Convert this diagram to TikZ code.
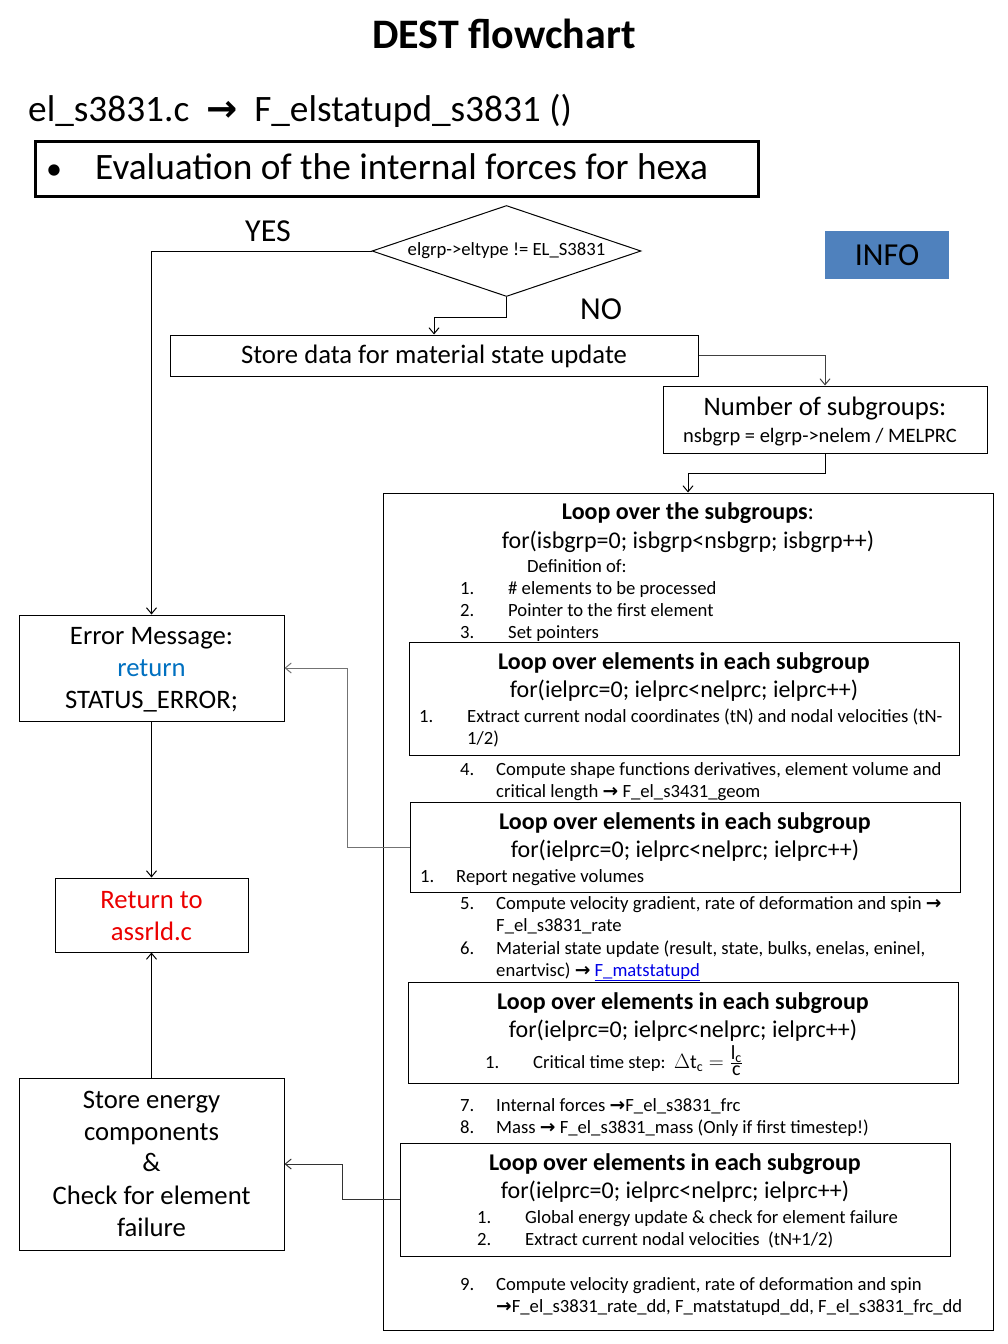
\documentclass[tikz,border=0pt]{standalone}
\usepackage{fontspec}
\setmainfont{Carlito}
\newfontfamily\arrfont{DejaVu Sans}
\usetikzlibrary{shapes.geometric,arrows.meta}
\definecolor{infoblue}{RGB}{79,129,189}
\definecolor{retblue}{RGB}{0,112,192}
\definecolor{linkblue}{RGB}{0,0,230}
\definecolor{redtxt}{RGB}{235,0,0}
\newcommand\fsz[1]{\fontsize{#1}{#1}\selectfont}
\newcommand\myarr{{\arrfont\bfseries →}}
\begin{document}
\begin{tikzpicture}[x=1pt,y=-1pt,
  box/.style={draw, line width=1pt, inner sep=0pt, rectangle},
  tS/.style={font=\fsz{18.67}, inner sep=0pt, anchor=base west, yshift=-6pt},
  tSc/.style={tS, anchor=base},
  tM/.style={font=\fsz{24}, inner sep=0pt, anchor=base, yshift=-7.5pt},
  tMb/.style={font=\fsz{24}\bfseries, inner sep=0pt, anchor=base, yshift=-7.5pt},
  tL/.style={font=\fsz{26.67}, inner sep=0pt, anchor=base, yshift=-8.5pt},
  tXL/.style={font=\fsz{32}, inner sep=0pt, anchor=base, yshift=-10.5pt},
  tH/.style={font=\fsz{37.3}, inner sep=0pt, anchor=base west, yshift=-11.5pt},
  arr/.style={-{Straight Barb[length=6pt,width=10pt]}, line width=1pt},
]
\useasboundingbox (0,0) rectangle (1008,1344);

% title and header
\node[font=\fsz{42}\bfseries, inner sep=0pt, anchor=base, yshift=-13pt] (title) at (504,35) {DEST flowchart};
\node[tH] (hdr) at (28,110) {el\_s3831.c \ \myarr\ \ F\_elstatupd\_s3831 ()};
\node[box, line width=3pt, minimum width=723pt, minimum height=55pt] (tbox) at (396.5,168.5) {};
\node[tH, font=\fsz{32}] (bul) at (46,168) {•};
\node[tH] (eval) at (95,168) {Evaluation of the internal forces for hexa};

% decision
\node[draw, line width=1pt, shape=diamond, shape aspect=2.96, inner sep=0pt,
      minimum width=269pt, minimum height=91pt, font=\fsz{18.67}] (dia) at (506.5,251) {elgrp->eltype != EL\_S3831};
\node[tXL] (yes) at (268,231) {YES};
\node[tXL] (no) at (601,309) {NO};
\node[fill=infoblue, minimum width=124pt, minimum height=48pt, inner sep=0pt] (info) at (887,255) {};
\node[tXL] (infot) at (887,255) {INFO};

% store / number
\node[box, minimum width=528pt, minimum height=41pt] (store) at (434,355.5) {};
\node[tL] (storet) at (434,355) {Store data for material state update};
\node[box, minimum width=324pt, minimum height=67pt] (num) at (825,419.5) {};
\node[tL] (numt1) at (825,407) {Number of subgroups:};
\node[tSc, font=\fsz{20.5}] (numt2) at (820,436) {nsbgrp = elgrp->nelem / MELPRC};

% big loop box
\node[box, minimum width=610pt, minimum height=837pt] (big) at (688,911.5) {};
\node[tMb] (bigt1) at (688,512) {Loop over the subgroups\mdseries:};
\node[tM] (bigt2) at (688,541) {for(isbgrp=0; isbgrp<nsbgrp; isbgrp++)};
\node[tS] (def) at (527,566) {Definition of:};
\node[tS] (n1) at (460,588) {1.};
\node[tS] (i1) at (508,588) {\# elements to be processed};
\node[tS] (n2) at (460,610.5) {2.};
\node[tS] (i2) at (508,610.5) {Pointer to the first element};
\node[tS] (n3) at (460,632.5) {3.};
\node[tS] (i3) at (508,632.5) {Set pointers};

% loop 1
\node[box, minimum width=550pt, minimum height=113pt] (L1) at (684,698.5) {};
\node[tMb] (L1a) at (684,662) {Loop over elements in each subgroup};
\node[tM] (L1b) at (684,690) {for(ielprc=0; ielprc<nelprc; ielprc++)};
\node[tS] (L1n) at (419,716) {1.};
\node[tS] (L1c) at (467,716) {Extract current nodal coordinates (tN) and nodal velocities (tN-};
\node[tS] (L1d) at (467,738) {1/2)};

\node[tS] (n4) at (460,769) {4.};
\node[tS] (i4a) at (496,769) {Compute shape functions derivatives, element volume and};
\node[tS] (i4b) at (496,791) {critical length \myarr\ F\_el\_s3431\_geom};

% loop 2
\node[box, minimum width=550pt, minimum height=90pt] (L2) at (685,847) {};
\node[tMb] (L2a) at (685,822) {Loop over elements in each subgroup};
\node[tM] (L2b) at (685,850) {for(ielprc=0; ielprc<nelprc; ielprc++)};
\node[tS] (L2n) at (420,876) {1.};
\node[tS] (L2c) at (456,876) {Report negative volumes};

\node[tS] (n5) at (460,903) {5.};
\node[tS] (i5a) at (496,903) {Compute velocity gradient, rate of deformation and spin \myarr};
\node[tS] (i5b) at (496,925) {F\_el\_s3831\_rate};
\node[tS] (n6) at (460,948) {6.};
\node[tS] (i6a) at (496,948) {Material state update (result, state, bulks, enelas, eninel,};
\node[tS] (i6b) at (496,970) {enartvisc) \myarr\ \textcolor{linkblue}{\underline{F\_matstatupd}}};

% loop 3
\node[box, minimum width=550pt, minimum height=101pt] (L3) at (683,1032.5) {};
\node[tMb] (L3a) at (683,1002) {Loop over elements in each subgroup};
\node[tM] (L3b) at (683,1030) {for(ielprc=0; ielprc<nelprc; ielprc++)};
\node[tS] (L3n) at (485,1062) {1.};
\node[tS] (L3c) at (533,1062) {Critical time step:\ \ {\fsz{20}$\Delta\mathrm{t_c}=\frac{\textstyle\mathrm{l_c}}{\textstyle\mathrm{c}}$}};

\node[tS] (n7) at (460,1105) {7.};
\node[tS] (i7) at (496,1105) {Internal forces \myarr F\_el\_s3831\_frc};
\node[tS] (n8) at (460,1127) {8.};
\node[tS] (i8) at (496,1127) {Mass \myarr\ F\_el\_s3831\_mass (Only if first timestep!)};

% loop 4
\node[box, minimum width=550pt, minimum height=113pt] (L4) at (675,1199.5) {};
\node[tMb] (L4a) at (675,1163) {Loop over elements in each subgroup};
\node[tM] (L4b) at (675,1191) {for(ielprc=0; ielprc<nelprc; ielprc++)};
\node[tS] (L4n1) at (477,1217) {1.};
\node[tS] (L4c1) at (525,1217) {Global energy update \& check for element failure};
\node[tS] (L4n2) at (477,1239) {2.};
\node[tS] (L4c2) at (525,1239) {Extract current nodal velocities\ \ (tN+1/2)};

\node[tS] (n9) at (460,1284) {9.};
\node[tS] (i9a) at (496,1284) {Compute velocity gradient, rate of deformation and spin};
\node[tS] (i9b) at (496,1306) {\myarr F\_el\_s3831\_rate\_dd, F\_matstatupd\_dd, F\_el\_s3831\_frc\_dd};

% left column
\node[box, minimum width=265pt, minimum height=106pt] (err) at (151.5,668) {};
\node[tL] (err1) at (151.5,636) {Error Message:};
\node[tL, text=retblue] (err2) at (151.5,668) {return};
\node[tL] (err3) at (151.5,700) {STATUS\_ERROR;};

\node[box, minimum width=193pt, minimum height=74pt] (ret) at (151.5,915) {};
\node[tL, text=redtxt] (ret1) at (151.5,900) {Return to};
\node[tL, text=redtxt] (ret2) at (151.5,932) {assrld.c};

\node[box, minimum width=265pt, minimum height=172pt] (energy) at (151.5,1164) {};
\node[tL] (en1) at (151.5,1100) {Store energy};
\node[tL] (en2) at (151.5,1132) {components};
\node[tL] (en3) at (151.5,1163) {\&};
\node[tL] (en4) at (151.5,1196) {Check for element};
\node[tL] (en5) at (151.5,1228) {failure};

% connectors
\draw[arr] (dia.west) -| (err.north);
\draw[arr] (dia.south) -- ++(0,20) -| (store.north);
\draw[arr, black!75] (store.east) -| (num.north);
\draw[arr] (num.south) -- ++(0,20) -| (big.north);
\draw[arr] (err.south) -- (ret.north);
\draw[arr] (energy.north) -- (ret.south);
\draw[arr, black!55] (L2.west) -- ++(-62,0) |- (err.east);
\draw[arr, black!80] (L4.west) -- ++(-57,0) |- (energy.east);
\end{tikzpicture}
\end{document}
